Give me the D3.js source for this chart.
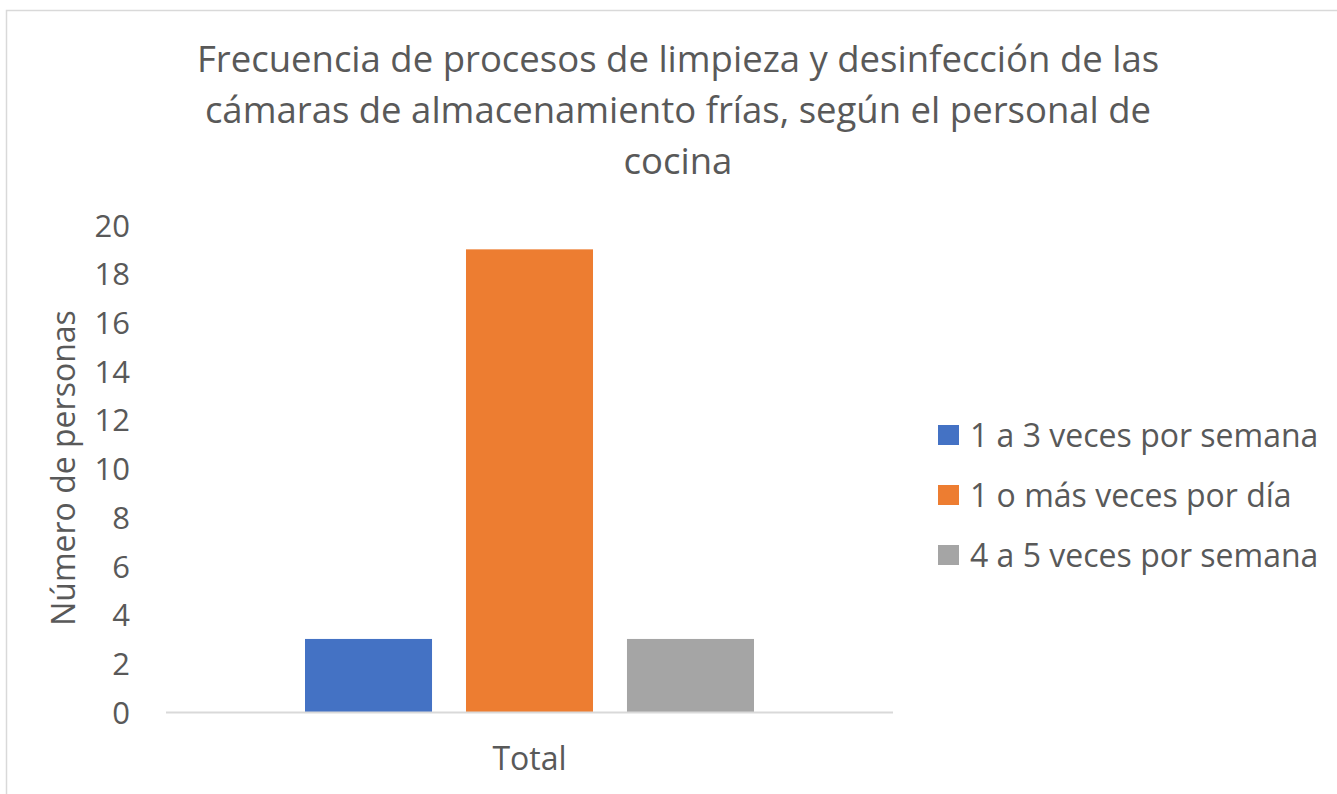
<!DOCTYPE html>
<html><head><meta charset="utf-8">
<script src="https://cdn.jsdelivr.net/npm/d3@7"></script>
<style>body{margin:0;background:#fff}svg{display:block}text{font-family:"Open Sans",sans-serif;fill:#595959}</style>
</head><body>
<svg id="c" width="1337" height="794"></svg>
<script>
const titleLines = ["Frecuencia de procesos de limpieza y desinfección de las", "cámaras de almacenamiento frías, según el personal de", "cocina"];
const categories = ["Total"];
const seriesNames = ["1 a 3 veces por semana", "1 o más veces por día", "4 a 5 veces por semana"];
const seriesValues = [3, 19, 3];
const seriesColors = ["#4472c4", "#ed7d31", "#a5a5a5"];
const yTicks = [0, 2, 4, 6, 8, 10, 12, 14, 16, 18, 20];
const yTitle = "Número de personas";

(function () {
const svg = d3.select("#c");
svg.append("rect").attr("x", 6.5).attr("y", 10.5).attr("width", 1340).attr("height", 800)
  .attr("fill", "#fff").attr("stroke", "#d9d9d9").attr("stroke-width", 1.5);

const pLeft = 166, pRight = 893, pTop = 225, pBottom = 712;
const x0 = d3.scaleBand().domain(categories).range([pLeft, pRight]).paddingInner(0).paddingOuter(0.3096);
const x1 = d3.scaleBand().domain(seriesNames).range([0, x0.bandwidth()]).paddingInner(0.211).paddingOuter(0);
const y = d3.scaleLinear().domain([0, 20]).range([pBottom, pTop]);

// title
svg.append("g").selectAll("text").data(titleLines).join("text")
  .attr("x", 678).attr("y", (d, i) => 72 + i * 51)
  .attr("text-anchor", "middle").style("font-size", "36.5px").text(d => d);

// bars
const g = svg.append("g");
categories.forEach(c => {
  g.selectAll("rect.b").data(seriesNames).join("rect").attr("class", "b")
    .attr("x", d => x0(c) + x1(d)).attr("width", x1.bandwidth())
    .attr("y", (d, i) => y(seriesValues[i])).attr("height", (d, i) => y(0) - y(seriesValues[i]))
    .attr("fill", (d, i) => seriesColors[i]);
});

// x axis
const xa = svg.append("g").attr("transform", `translate(0,${pBottom})`).call(d3.axisBottom(x0).tickSize(0).tickPadding(35));
xa.select(".domain").attr("stroke", "#d9d9d9").attr("stroke-width", 2).attr("d", `M${pLeft},0.5H${pRight}`);
xa.selectAll("text").style("font-size", "32px").style("font-family", "Open Sans").attr("fill", "#595959");

// y axis
const ya = svg.append("g").attr("transform", `translate(${pLeft},0)`).call(d3.axisLeft(y).tickValues(yTicks).tickSize(0).tickPadding(36));
ya.select(".domain").remove();
ya.selectAll("text").style("font-size", "31px").style("font-family", "Open Sans").attr("fill", "#595959").attr("dy", "0.36em");

// y title
svg.append("text").attr("transform", "translate(75,468) rotate(-90)")
  .attr("text-anchor", "middle").style("font-size", "32px").text(yTitle);

// legend
const lg = svg.append("g").selectAll("g").data(seriesNames).join("g")
  .attr("transform", (d, i) => `translate(938,${425 + i * 60})`);
lg.append("rect").attr("width", 21).attr("height", 20).attr("fill", (d, i) => seriesColors[i]);
lg.append("text").attr("x", 32).attr("y", 10).attr("dy", "0.36em").style("font-size", "32px").text(d => d);
})();
</script>
</body></html>
